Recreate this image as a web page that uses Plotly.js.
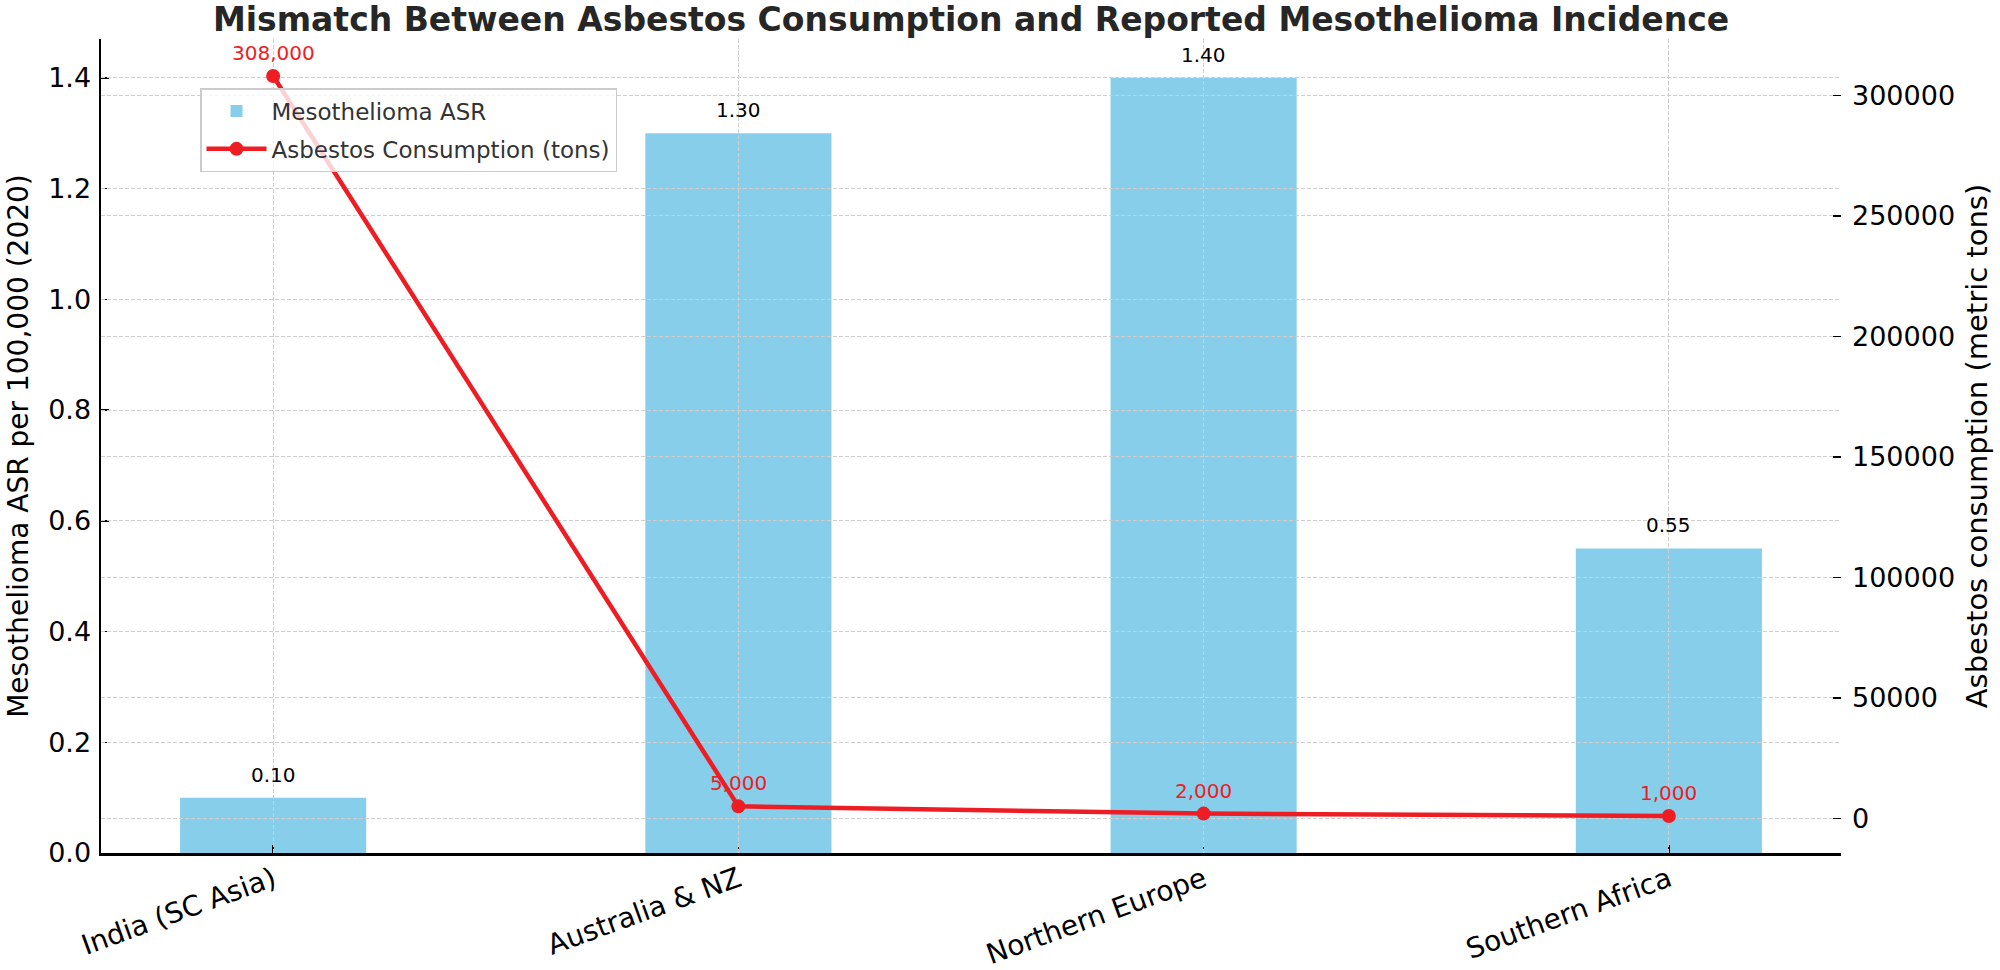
<!DOCTYPE html>
<html>
<head>
<meta charset="utf-8">
<script src="https://cdn.plot.ly/plotly-3.0.1.min.js"></script>
<style>html,body{margin:0;padding:0;background:#fff;}#chart{width:2000px;height:970px;}</style>
</head>
<body>
<div id="chart"></div>
<script>
const categories = ["India (SC Asia)", "Australia & NZ", "Northern Europe", "Southern Africa"];
const asrValues = [0.10, 1.30, 1.40, 0.55];
const consumptionTons = [308000, 5000, 2000, 1000];
const leftTicks = [0.0, 0.2, 0.4, 0.6, 0.8, 1.0, 1.2, 1.4];
const rightTicks = [0, 50000, 100000, 150000, 200000, 250000, 300000];

const barColor = "#87CEEB";
const lineColor = "#ee1d23";
const font = "DejaVu Sans, sans-serif";
const xRange = [-0.37, 3.37];
const leftRange = [0, 1.47];
const rightRange = [-14350, 323350];

const bars = {
  type: "bar", x: categories, y: asrValues, name: "Mesothelioma ASR",
  marker: {color: barColor}, width: 0.4, xaxis: "x", yaxis: "y", hoverinfo: "skip",
  legendgroup: "a"
};
const line = {
  type: "scatter", mode: "lines+markers", x: categories, y: consumptionTons,
  name: "Asbestos Consumption (tons)", xaxis: "x2", yaxis: "y2",
  line: {color: lineColor, width: 4.5}, marker: {color: lineColor, size: 14},
  legendgroup: "b"
};

const annotations = [];
categories.forEach((c, i) => {
  annotations.push({x: c, y: asrValues[i], xref: "x", yref: "y", text: asrValues[i].toFixed(2),
    showarrow: false, yanchor: "bottom", yshift: 9, font: {family: font, size: 20, color: "#000"}});
  annotations.push({x: c, y: consumptionTons[i], xref: "x2", yref: "y2", text: consumptionTons[i].toLocaleString("en-US"),
    showarrow: false, yanchor: "bottom", yshift: 9, font: {family: font, size: 20, color: lineColor}});
});

const grid = {gridcolor: "#cfcfcf", griddash: "4px,2px", gridwidth: 1};
const tickFont = {family: font, size: 27, color: "#000"};

const layout = {
  width: 2000, height: 970,
  margin: {l: 101, r: 159, t: 39, b: 117},
  paper_bgcolor: "#fff", plot_bgcolor: "rgba(0,0,0,0)",
  font: {family: font, color: "#000"},
  title: {text: "<b>Mismatch Between Asbestos Consumption and Reported Mesothelioma Incidence</b>",
    x: 0.5, xref: "paper", y: 1 - 19 / 970, yref: "container", yanchor: "middle",
    font: {family: font, size: 33, color: "#262626"}},
  // bar subplot (left axis)
  xaxis: {type: "category", range: xRange, tickangle: -20, showgrid: false, domain: [0, 1],
    ticks: "inside", ticklen: 8, tickwidth: 1.5, tickcolor: "#000", showline: true, linecolor: "#000", linewidth: 2.5,
    tickfont: {family: font, size: 28, color: "#000"}, ticklabelstandoff: -3, zeroline: false, anchor: "y"},
  yaxis: {range: leftRange, tickvals: leftTicks, ticktext: leftTicks.map(v => v.toFixed(1)), showgrid: false,
    ticks: "inside", ticklen: 8, tickwidth: 1.5, tickcolor: "#000", showline: true, linecolor: "#000", linewidth: 2.5,
    zeroline: false, tickfont: tickFont, ticklabelstandoff: 2, anchor: "x",
    title: {text: "Mesothelioma ASR per 100,000 (2020)", font: {family: font, size: 28, color: "#000"}, standoff: 12}},
  // line subplot drawn on top (right axis) carries the grid, like the reference
  xaxis2: Object.assign({type: "category", range: xRange, showticklabels: false, ticks: "", showline: false,
    zeroline: false, showgrid: true, anchor: "y2", domain: [0, 1]}, grid),
  yaxis2: Object.assign({side: "right", range: rightRange, tickvals: rightTicks, anchor: "x2",
    ticktext: rightTicks.map(String), ticks: "inside", ticklen: 8, tickwidth: 1.5, tickcolor: "#000", showline: false,
    zeroline: false, showgrid: true, tickfont: tickFont, ticklabelstandoff: 10,
    title: {text: "Asbestos consumption (metric tons)", font: {family: font, size: 29, color: "#000"}, standoff: 12}}, grid),
  yaxis3: Object.assign({overlaying: "y2", side: "left", range: leftRange, tickvals: leftTicks, anchor: "x2",
    showticklabels: false, ticks: "", showline: false, zeroline: false, showgrid: true}, grid),
  showlegend: true,
  legend: {x: 0.0569, y: 0.9398, xanchor: "left", yanchor: "top", bgcolor: "rgba(255,255,255,0.8)",
    bordercolor: "#cccccc", borderwidth: 1.5, itemwidth: 60, traceorder: "grouped", tracegroupgap: 5,
    font: {family: font, size: 23, color: "#333"}},
  annotations: annotations
};

// yaxis3 only carries the left-scale grid above the bars; helper trace has no marks
const gridHelper = {type: "scatter", mode: "none", x: [], y: [], xaxis: "x2", yaxis: "y3", showlegend: false, hoverinfo: "skip"};

Plotly.newPlot("chart", [bars, line, gridHelper], layout, {displayModeBar: false, staticPlot: true});
</script>
</body>
</html>
